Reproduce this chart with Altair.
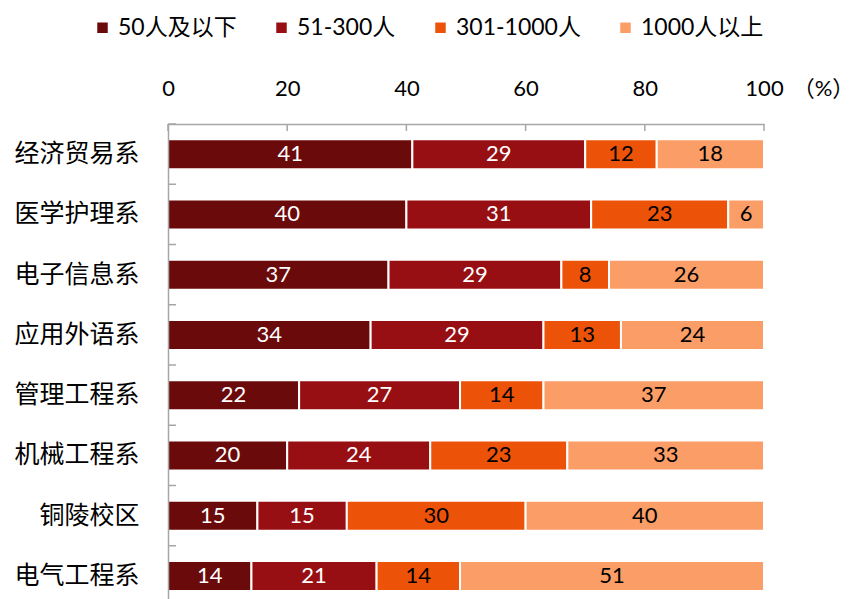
import altair as alt
import pandas as pd

categories = ["经济贸易系", "医学护理系", "电子信息系", "应用外语系",
              "管理工程系", "机械工程系", "铜陵校区", "电气工程系"]
groups = ["50人及以下", "51-300人", "301-1000人", "1000人以上"]
v_50 = [41, 40, 37, 34, 22, 20, 15, 14]
v_300 = [29, 31, 29, 29, 27, 24, 15, 21]
v_1000 = [12, 23, 8, 13, 14, 23, 30, 14]
v_more = [18, 6, 26, 24, 37, 33, 40, 51]
colors = ["#6B0A0B", "#980F13", "#EC5309", "#FB9D66"]
text_colors = ["#FFFFFF", "#FFFFFF", "#000000", "#000000"]
x_ticks = [0, 20, 40, 60, 80, 100]

series = [v_50, v_300, v_1000, v_more]
rows = []
for gi, (g, vals) in enumerate(zip(groups, series)):
    for c, v in zip(categories, vals):
        rows.append({"cat": c, "group": g, "value": v, "order": gi,
                     "tcolor": text_colors[gi]})
df = pd.DataFrame(rows)

LATIN = "Lato, 'Noto Sans CJK SC'"
CJK = "'Noto Sans CJK SC'"
AXIS_GRAY = "#A6A6A6"

yscale = alt.Scale(domain=categories, paddingInner=0, paddingOuter=0)
xscale = alt.Scale(domain=[0, 100], nice=False)

base = alt.Chart(df).transform_stack(
    stack="value", as_=["x0", "x1"], groupby=["cat"],
    sort=[alt.SortField("order", order="ascending")]
).transform_calculate(mid="(datum.x0 + datum.x1) / 2")

bars = base.mark_bar(size=30, stroke="white", strokeWidth=2).encode(
    y=alt.Y("cat:N", scale=yscale, sort=categories,
            axis=alt.Axis(title=None, ticks=False, domainColor=AXIS_GRAY,
                          domainWidth=1.5, labelFont=CJK, labelFontSize=25,
                          labelColor="#000000", labelPadding=29, zindex=1,
                          labelLimit=300)),
    x=alt.X("x0:Q", scale=xscale,
            axis=alt.Axis(orient="top", values=x_ticks, ticks=False, grid=False,
                          domainColor=AXIS_GRAY, domainWidth=1.5,
                          labelFont=LATIN, labelFontSize=22, labelColor="#000000",
                          labelPadding=36, labelBaseline="middle", labelFlush=False,
                          zindex=1,
                          title="（%）", titleX=655, titleY=-36,
                          titleAlign="center", titleBaseline="middle",
                          titleFont=LATIN, titleFontSize=22,
                          titleFontWeight="normal", titleColor="#000000",
                          titleAngle=0)),
    x2="x1:Q",
    color=alt.Color("group:N", scale=alt.Scale(domain=groups, range=colors),
                    sort=groups,
                    legend=alt.Legend(title=None, orient="none", legendX=-77,
                                      legendY=-108, direction="horizontal",
                                      padding=0,
                                      symbolType="square", symbolSize=110,
                                      symbolStrokeWidth=0, labelFont=LATIN,
                                      labelFontSize=23, labelColor="#000000",
                                      labelOffset=4, columnPadding=33,
                                      labelLimit=300)),
)

labels = base.mark_text(font=LATIN, fontSize=22, baseline="middle",
                        align="center").encode(
    y=alt.Y("cat:N", scale=yscale, sort=categories),
    x=alt.X("mid:Q", scale=xscale),
    text=alt.Text("value:Q"),
    color=alt.Color("tcolor:N", scale=None),
)

xtick_df = pd.DataFrame({"t": x_ticks})
xticks = alt.Chart(xtick_df).mark_rule(color=AXIS_GRAY, strokeWidth=1.5).encode(
    x=alt.X("t:Q", scale=xscale),
    y=alt.value(0),
    y2=alt.value(7),
)

ytick_df = pd.DataFrame({"cat": categories})
yticks = alt.Chart(ytick_df).mark_rule(color=AXIS_GRAY, strokeWidth=1.5).encode(
    y=alt.Y("cat:N", scale=yscale, sort=categories, bandPosition=0),
    x=alt.value(0),
    x2=alt.value(8),
)

chart = alt.layer(bars, labels, xticks, yticks).properties(
    width=596, height=482,
    autosize=alt.AutoSizeParams(type="none"),
    padding={"left": 160, "top": 116, "right": 89, "bottom": 0},
).configure_view(stroke=None)

chart.save("out.html", embed_options={"renderer": "svg", "actions": False})
